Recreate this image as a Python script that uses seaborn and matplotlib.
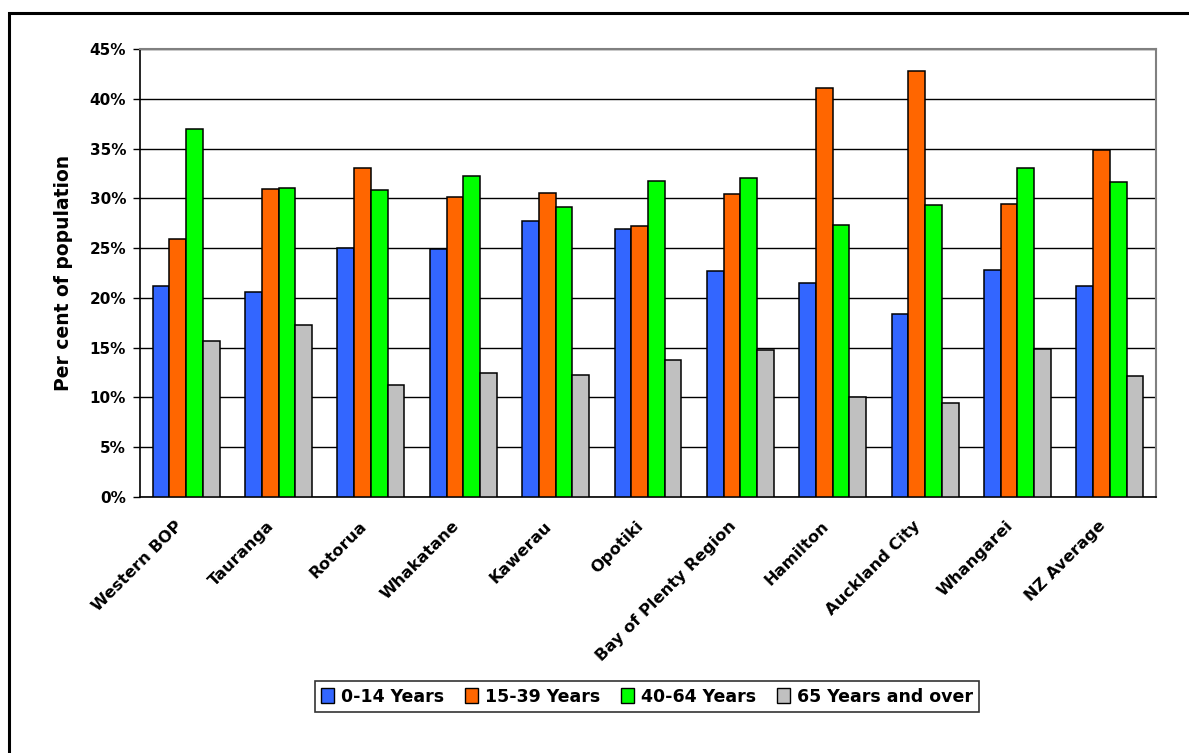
import numpy as np
import pandas as pd
import matplotlib
matplotlib.use("Agg")
import matplotlib.pyplot as plt
from matplotlib.patches import Rectangle
from matplotlib.ticker import FixedLocator, PercentFormatter
from matplotlib.transforms import ScaledTranslation
import seaborn as sns

# Age structure by area (% of population)
areas = ["Western BOP", "Tauranga", "Rotorua", "Whakatane", "Kawerau", "Opotiki",
         "Bay of Plenty Region", "Hamilton", "Auckland City", "Whangarei", "NZ Average"]
age_groups = ["0-14 Years", "15-39 Years", "40-64 Years", "65 Years and over"]
age_0_14 = [21.2, 20.6, 25.0, 24.9, 27.7, 26.9, 22.7, 21.5, 18.4, 22.8, 21.2]
age_15_39 = [25.9, 30.9, 33.0, 30.1, 30.5, 27.2, 30.4, 41.1, 42.8, 29.4, 34.9]
age_40_64 = [37.0, 31.0, 30.8, 32.2, 29.1, 31.7, 32.0, 27.3, 29.3, 33.0, 31.6]
age_65_plus = [15.7, 17.3, 11.2, 12.5, 12.3, 13.8, 14.8, 10.0, 9.4, 14.9, 12.2]
colors = ["#3366FF", "#FF6600", "#00FF00", "#C0C0C0"]

series = [age_0_14, age_15_39, age_40_64, age_65_plus]
df = pd.DataFrame({
    "Area": np.tile(areas, len(age_groups)),
    "Age group": np.repeat(age_groups, len(areas)),
    "Percent": np.concatenate(series),
})

sns.set_theme(style="white")
plt.rcParams["font.family"] = ["DejaVu Sans"]
plt.rcParams["font.weight"] = "bold"
for key in ["text.color", "axes.labelcolor", "xtick.color", "ytick.color"]:
    plt.rcParams[key] = "black"

fig = plt.figure(figsize=(11.89, 7.53), dpi=100)
ax = fig.add_axes([140 / 1189, 1 - 497 / 753, (1156 - 140) / 1189, (497 - 49) / 753])

sns.barplot(data=df, x="Area", y="Percent", hue="Age group", order=areas,
            hue_order=age_groups, palette=colors, width=0.725, gap=0,
            edgecolor="black", linewidth=1.1, saturation=1, ax=ax, zorder=3)

ax.set_ylim(0, 45)
ax.set_xlim(-0.5, len(areas) - 0.5)
ax.yaxis.set_major_locator(FixedLocator(np.arange(0, 46, 5)))
ax.yaxis.set_major_formatter(PercentFormatter(decimals=0))
ax.grid(axis="y", color="black", linewidth=1.0, zorder=0)
ax.set_axisbelow(True)

# category boundary ticks
ax.set_xticks(np.arange(len(areas)))
ax.set_xticks(np.arange(-0.5, len(areas)), minor=True)
ax.tick_params(axis="x", which="major", length=0, pad=6)
ax.tick_params(axis="x", which="minor", length=5, width=1, color="black", direction="out")
ax.tick_params(axis="y", which="major", length=5, width=1, color="black", direction="out",
               labelsize=11, pad=5, left=True)
ax.set_xticklabels(areas, rotation=45, ha="right", rotation_mode="anchor",
                   fontsize=11.7, fontweight="bold")
shift = ScaledTranslation(-0.12, -0.13, fig.dpi_scale_trans)
for lbl in ax.get_xticklabels():
    lbl.set_transform(lbl.get_transform() + shift)
for lbl in ax.get_yticklabels():
    lbl.set_fontweight("bold")

ax.set_xlabel("")
ax.set_ylabel("Per cent of population", fontsize=13.5, fontweight="bold", labelpad=12)

for side in ["top", "right"]:
    ax.spines[side].set_color("#808080")
    ax.spines[side].set_linewidth(1.5)
for side in ["left", "bottom"]:
    ax.spines[side].set_color("black")
    ax.spines[side].set_linewidth(1.2)
for side in ax.spines:
    ax.spines[side].set_visible(True)

ax.legend_.remove()
handles = [Rectangle((0, 0), 1, 1, facecolor=c, edgecolor="black", linewidth=1) for c in colors]
leg = fig.legend(handles, age_groups, loc="center", bbox_to_anchor=(647 / 1189, 1 - 696.5 / 753),
                 ncol=4, frameon=True, fancybox=False, handlelength=0.75, handleheight=0.95,
                 handletextpad=0.4, columnspacing=1.2, borderpad=0.35, borderaxespad=0,
                 prop={"size": 12.5, "weight": "bold"})
leg.get_frame().set_edgecolor("black")
leg.get_frame().set_linewidth(1.2)

# outer chart frame
fig.patches.append(Rectangle((9 / 1189, -0.05), 1.1, 1 - 13 / 753 + 0.05,
                             transform=fig.transFigure, fill=False,
                             edgecolor="black", linewidth=2.2, zorder=10))

fig.savefig("out.png", dpi=100, facecolor="white")
